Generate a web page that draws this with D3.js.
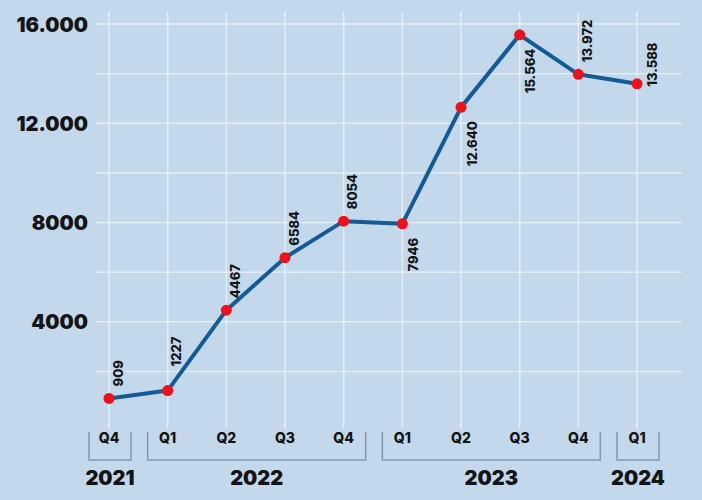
<!DOCTYPE html>
<html>
<head>
<meta charset="utf-8">
<script src="https://cdn.jsdelivr.net/npm/d3@7"></script>
<style>
  html, body { margin: 0; padding: 0; background: #c3d8eb; }
  svg { display: block; }
  text { font-family: Inter, "Noto Sans", sans-serif; fill: #141414; }
</style>
</head>
<body>
<svg id="chart" width="702" height="500"></svg>
<script>
// ---- data ----
const quarters = ["Q4", "Q1", "Q2", "Q3", "Q4", "Q1", "Q2", "Q3", "Q4", "Q1"];
const quarterYear = ["2021", "2022", "2022", "2022", "2022", "2023", "2023", "2023", "2023", "2024"];
const years = ["2021", "2022", "2023", "2024"];
const values = [909, 1227, 4467, 6584, 8054, 7946, 12640, 15564, 13972, 13588];
const labelSide = ["above", "high", "above", "above", "above", "below", "below", "below", "above", "right"];
const yTicks = [4000, 8000, 12000, 16000];
const yGrid = [2000, 4000, 6000, 8000, 10000, 12000, 14000, 16000];

// ---- formatting: dot as thousands separator for 5-digit numbers ----
const loc = d3.formatLocale({ decimal: ",", thousands: ".", grouping: [3], currency: ["", ""] });
const fmtGroup = loc.format(",");
const fmt = v => v >= 10000 ? fmtGroup(v) : String(v);

const svg = d3.select("#chart");
const W = 702, H = 500;

svg.append("rect").attr("width", W).attr("height", H).attr("fill", "#c3d8eb");

const idx = d3.range(values.length);
const x = d3.scalePoint().domain(idx).range([109, 637]);
const y = d3.scaleLinear().domain([0, 16000]).range([421, 24]);

const gridLeft = 96, gridRight = 682, gridTop = 12, gridBottom = 428;

// horizontal grid
svg.append("g").selectAll("line").data(yGrid).join("line")
  .attr("x1", gridLeft).attr("x2", gridRight)
  .attr("y1", d => y(d)).attr("y2", d => y(d))
  .attr("stroke", "#ffffff").attr("stroke-opacity", 0.55).attr("stroke-width", 1.5);

// vertical grid
svg.append("g").selectAll("line").data(idx).join("line")
  .attr("x1", d => x(d)).attr("x2", d => x(d))
  .attr("y1", gridTop).attr("y2", gridBottom)
  .attr("stroke", "#ffffff").attr("stroke-opacity", 0.55).attr("stroke-width", 1.5);

// y axis labels
const yAxis = d3.axisLeft(y).tickValues(yTicks).tickFormat(fmt).tickSize(0).tickPadding(8);
const gy = svg.append("g").attr("transform", `translate(${gridLeft},0)`).call(yAxis);
gy.select(".domain").remove();
gy.selectAll("text")
  .attr("font-family", "Inter, 'Noto Sans', sans-serif")
  .attr("font-size", 20).attr("font-weight", 900).attr("fill", "#141414")
  .attr("dy", "0.36em");

// line
const line = d3.line().x((d, i) => x(i)).y(d => y(d));
svg.append("path").datum(values)
  .attr("d", line)
  .attr("fill", "none")
  .attr("stroke", "#155a98")
  .attr("stroke-width", 4)
  .attr("stroke-linejoin", "round")
  .attr("stroke-linecap", "round");

// dots
svg.append("g").selectAll("circle").data(values).join("circle")
  .attr("cx", (d, i) => x(i)).attr("cy", d => y(d)).attr("r", 5.5)
  .attr("fill", "#f0101a");

// value labels (rotated)
svg.append("g").selectAll("text").data(values).join("text")
  .attr("transform", (d, i) => {
    const side = labelSide[i];
    let lx = x(i), ly = y(d);
    if (side === "above") { lx += 9; ly -= 12; }
    else if (side === "high") { lx += 9; ly -= 24; }
    else if (side === "below") { lx += 11; ly += 14; }
    else { lx += 15; ly += 3; }
    return `translate(${lx},${ly}) rotate(-90)`;
  })
  .attr("text-anchor", (d, i) => labelSide[i] === "below" ? "end" : "start")
  .attr("dy", "0.36em")
  .attr("font-size", 13).attr("font-weight", 800)
  .text(d => fmt(d));

// quarter labels
svg.append("g").selectAll("text").data(quarters).join("text")
  .attr("x", (d, i) => x(i)).attr("y", 438)
  .attr("dy", "0.36em")
  .attr("text-anchor", "middle")
  .attr("font-size", 14).attr("font-weight", 800)
  .text(d => d);

// year brackets
const bTop = 432, bBottom = 460, padL = 20, padR = 22;
const groups = years.map(yr => {
  const ids = idx.filter(i => quarterYear[i] === yr);
  return { yr, x0: x(ids[0]) - padL, x1: x(ids[ids.length - 1]) + padR };
});
svg.append("g").selectAll("path").data(groups).join("path")
  .attr("d", g => `M${g.x0},${bTop}V${bBottom}H${g.x1}V${bTop}`)
  .attr("fill", "none")
  .attr("stroke", "#8797aa")
  .attr("stroke-width", 1.5);

svg.append("g").selectAll("text").data(groups).join("text")
  .attr("x", g => (g.x0 + g.x1) / 2).attr("y", 478)
  .attr("dy", "0.36em")
  .attr("text-anchor", "middle")
  .attr("font-size", 20).attr("font-weight", 900)
  .text(g => g.yr);
</script>
</body>
</html>
